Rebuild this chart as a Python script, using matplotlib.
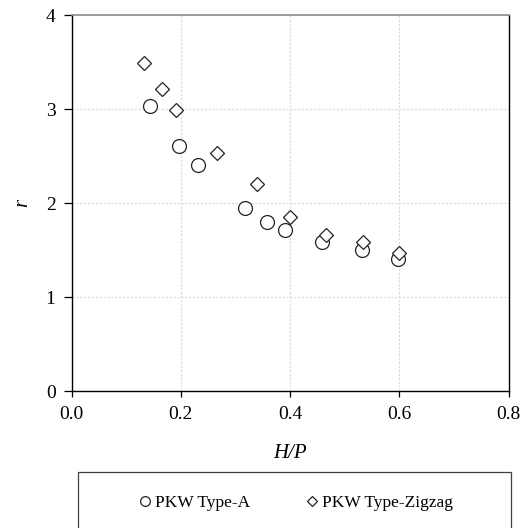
import matplotlib
matplotlib.use("Agg")
import matplotlib.pyplot as plt
from matplotlib.patches import Rectangle

# values
hp_type_a = [0.144, 0.197, 0.231, 0.317, 0.357, 0.391, 0.458, 0.532, 0.598]
r_type_a = [3.03, 2.61, 2.40, 1.95, 1.80, 1.71, 1.59, 1.50, 1.40]

hp_zigzag = [0.132, 0.166, 0.191, 0.266, 0.339, 0.400, 0.466, 0.533, 0.600]
r_zigzag = [3.49, 3.21, 2.99, 2.53, 2.20, 1.85, 1.66, 1.58, 1.47]

x_ticks = [0.0, 0.2, 0.4, 0.6, 0.8]
y_ticks = [0, 1, 2, 3, 4]

plt.rcParams['font.family'] = ['Liberation Serif', 'DejaVu Serif']

W, H = 526, 528
fig = plt.figure(figsize=(W / 100, H / 100), dpi=100)
ax = fig.add_axes([71.5 / W, 1 - 391 / H, 437 / W, 376 / H])

ax.plot(hp_type_a, r_type_a, linestyle='none', marker='o', ms=10,
        mfc='white', mec='#222222', mew=0.9, label='PKW Type-A', zorder=3)
ax.plot(hp_zigzag, r_zigzag, linestyle='none', marker='D', ms=7,
        mfc='white', mec='#222222', mew=0.9, label='PKW Type-Zigzag', zorder=3)

ax.set_xlim(0, 0.8)
ax.set_ylim(0, 4)
ax.set_xticks(x_ticks)
ax.set_yticks(y_ticks)
ax.set_xticklabels([f'{v:.1f}' for v in x_ticks])
ax.tick_params(direction='out', length=4, width=0.9, labelsize=14, pad=7, colors='black')
ax.tick_params(axis='y', length=5.5, pad=6)

ax.grid(True, linestyle=(0, (2, 1.5)), color='#d9d9d9', linewidth=0.8)
ax.set_axisbelow(True)
for side in ['left', 'bottom', 'right']:
    ax.spines[side].set_color('black')
    ax.spines[side].set_linewidth(1.0)
ax.spines['top'].set_color('#8c8c8c')
ax.spines['top'].set_linewidth(1.2)

ax.set_xlabel('H/P', fontsize=15, style='italic', labelpad=15)
ax.set_ylabel('r', fontsize=15, style='italic', labelpad=10)

# legend box running off the bottom of the figure
fig.patches.append(Rectangle((78 / W, -12 / H), 433 / W, 68 / H, transform=fig.transFigure,
                             fill=False, edgecolor='#404040', linewidth=0.9, clip_on=False))
fig.legend(loc='center', bbox_to_anchor=(0.5637, 1 - 503 / H), ncol=2, frameon=False,
           fontsize=12.5, markerscale=0.7, handlelength=0.6, handletextpad=0.25,
           columnspacing=3.3)

fig.savefig('out.png', dpi=100)
